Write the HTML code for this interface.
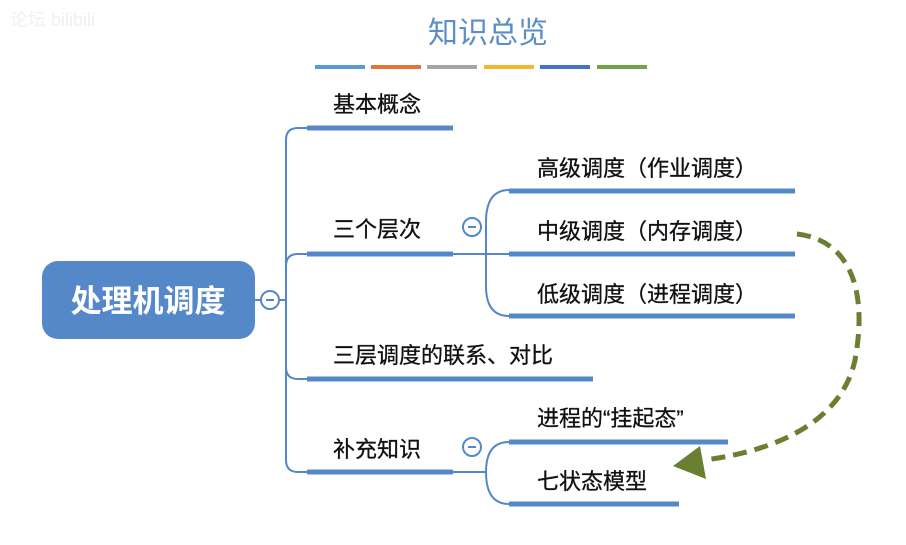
<!DOCTYPE html>
<html><head><meta charset="utf-8"><style>
body{margin:0;width:906px;height:540px;background:#fff;overflow:hidden;font-family:"Liberation Sans","Noto Sans CJK SC",sans-serif;}
svg text{font-family:"Liberation Sans","Noto Sans CJK SC",sans-serif;}
</style></head><body>
<svg width="906" height="540" viewBox="0 0 906 540" xmlns="http://www.w3.org/2000/svg">
<text x="10" y="26" font-size="18" fill="#f0f0f0">论坛 bilibili</text>
<text x="488" y="43" font-size="30" fill="#5b8ec9" text-anchor="middle">知识总览</text>
<g stroke-width="4">
<line x1="315" y1="67" x2="365" y2="67" stroke="#5b9bd5"/>
<line x1="371" y1="67" x2="421" y2="67" stroke="#e0763a"/>
<line x1="427" y1="67" x2="477" y2="67" stroke="#a5a5a5"/>
<line x1="484" y1="67" x2="534" y2="67" stroke="#f5b52f"/>
<line x1="540" y1="67" x2="590" y2="67" stroke="#4472c4"/>
<line x1="597" y1="67" x2="647" y2="67" stroke="#71a347"/>
</g>
<rect x="42" y="261" width="213" height="78" rx="16" fill="#5588c9"/>
<text x="148" y="312" font-size="31" font-weight="bold" fill="#fff" text-anchor="middle">处理机调度</text>
<g fill="none" stroke="#5588c9" stroke-width="2">
<line x1="255" y1="300" x2="261" y2="300"/>
<line x1="279" y1="300" x2="286" y2="300"/>
<path d="M286 140 Q286 128 298 128 L309 128"/>
<path d="M286 140 L286 460 Q286 472 298 472 L309 472"/>
<path d="M286 266 Q286 254 298 254 L309 254"/>
<path d="M286 367 Q286 379 298 379 L309 379"/>
<line x1="453" y1="254" x2="488" y2="254"/>
<path d="M509 190 Q486 190 486 222 L486 286 Q486 316 509 316"/>
<line x1="486" y1="254" x2="509" y2="254"/>
<line x1="453" y1="472" x2="486" y2="472"/>
<path d="M509 442 Q486 442 486 472 Q486 504 509 504"/>
<circle cx="270" cy="300" r="9" fill="#fff"/>
<circle cx="472" cy="227" r="9" fill="#fff"/>
<circle cx="472" cy="447" r="9" fill="#fff"/>
</g>
<g stroke="#5588c9" stroke-width="2"><line x1="266" y1="300" x2="274" y2="300"/><line x1="468" y1="227" x2="476" y2="227"/><line x1="468" y1="447" x2="476" y2="447"/></g>
<g stroke="#5588c9" stroke-width="5">
<line x1="307" y1="128" x2="453" y2="128"/>
<line x1="307" y1="254" x2="453" y2="254"/>
<line x1="307" y1="379" x2="593" y2="379"/>
<line x1="307" y1="472" x2="453" y2="472"/>
<line x1="509" y1="191" x2="795" y2="191"/>
<line x1="509" y1="254" x2="795" y2="254"/>
<line x1="509" y1="316" x2="795" y2="316"/>
<line x1="509" y1="442" x2="728" y2="442"/>
<line x1="509" y1="504" x2="679" y2="504"/>
</g>
<g font-size="22" fill="#111" stroke="#111" stroke-width="0.3">
<text x="333" y="112">基本概念</text>
<text x="333" y="237">三个层次</text>
<text x="333" y="363">三层调度的联系、对比</text>
<text x="333" y="457">补充知识</text>
<text x="537" y="176">高级调度（作业调度）</text>
<text x="537" y="239">中级调度（内存调度）</text>
<text x="537" y="302">低级调度（进程调度）</text>
<text x="537" y="426">进程的“挂起态”</text>
<text x="537" y="489">七状态模型</text>
</g>
<path d="M797 234 C850 240 868 290 855 360 C842 420 780 450 705 460" fill="none" stroke="#6a7f32" stroke-width="5" stroke-dasharray="14 8"/>
<polygon points="673,466 700,446 706,479" fill="#6a7f32"/>
</svg>
</body></html>
